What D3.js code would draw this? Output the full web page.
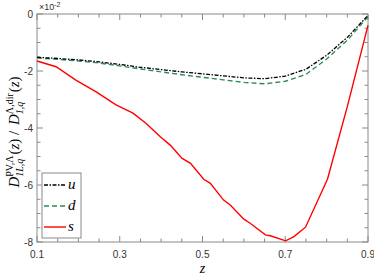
<!DOCTYPE html>
<html>
<head>
<meta charset="utf-8">
<script src="https://cdn.jsdelivr.net/npm/d3@7"></script>
<style>
  body { margin: 0; background: #fff; }
  svg text { font-family: "Liberation Sans", Arial, sans-serif; }
</style>
</head>
<body>
<div id="chart"></div>
<script>
// values in units of 10^-2
const zU = [0.1, 0.15, 0.2, 0.25, 0.3, 0.35, 0.4, 0.45, 0.5, 0.55, 0.6, 0.65, 0.7, 0.75, 0.8, 0.85, 0.9];
const uVals = [-1.52, -1.56, -1.61, -1.68, -1.77, -1.87, -1.95, -2.03, -2.10, -2.17, -2.24, -2.27, -2.18, -1.94, -1.45, -0.82, -0.05];
const dVals = [-1.54, -1.59, -1.65, -1.72, -1.82, -1.93, -2.03, -2.13, -2.22, -2.31, -2.40, -2.45, -2.36, -2.12, -1.58, -0.92, -0.10];
const zS = [0.1, 0.146, 0.194, 0.243, 0.291, 0.332, 0.364, 0.398, 0.422, 0.45, 0.471, 0.503, 0.519, 0.551, 0.567, 0.6, 0.616, 0.652, 0.664, 0.701, 0.721, 0.749, 0.802, 0.85, 0.9];
const sVals = [-1.65, -1.85, -2.32, -2.73, -3.19, -3.48, -3.84, -4.31, -4.60, -5.06, -5.24, -5.80, -5.94, -6.53, -6.70, -7.20, -7.35, -7.75, -7.78, -7.96, -7.81, -7.48, -5.80, -3.25, -0.40];
const xTickLabels = [0.1, 0.3, 0.5, 0.7, 0.9];
const yTickLabels = [0, -2, -4, -6, -8];

const width = 374, height = 275;
const margin = {top: 14, right: 6, bottom: 33, left: 37};
const innerW = width - margin.left - margin.right;
const innerH = height - margin.top - margin.bottom;

const svg = d3.select('#chart').append('svg')
    .attr('width', width)
    .attr('height', height);

const g = svg.append('g')
    .attr('transform', `translate(${margin.left},${margin.top})`);

const x = d3.scaleLinear().domain([0.1, 0.9]).range([0, innerW]);
const y = d3.scaleLinear().domain([-8, 0]).range([innerH, 0]);

const frameColor = '#8a8a8a';

// minor + major ticks, pointing inward on all four sides
const xMinor = d3.range(0.1, 0.9001, 0.05);
const yMinor = d3.range(-8, 0.001, 0.5);
const isMajorX = v => xTickLabels.some(t => Math.abs(t - v) < 1e-6);
const isMajorY = v => yTickLabels.some(t => Math.abs(t - v) < 1e-6);

xMinor.forEach(v => {
    const len = isMajorX(v) ? 6 : 3.5;
    g.append('line').attr('x1', x(v)).attr('x2', x(v)).attr('y1', innerH).attr('y2', innerH - len)
        .attr('stroke', frameColor).attr('stroke-width', 1);
    g.append('line').attr('x1', x(v)).attr('x2', x(v)).attr('y1', 0).attr('y2', len)
        .attr('stroke', frameColor).attr('stroke-width', 1);
});
yMinor.forEach(v => {
    const len = isMajorY(v) ? 6 : 3.5;
    g.append('line').attr('x1', 0).attr('x2', len).attr('y1', y(v)).attr('y2', y(v))
        .attr('stroke', frameColor).attr('stroke-width', 1);
    g.append('line').attr('x1', innerW).attr('x2', innerW - len).attr('y1', y(v)).attr('y2', y(v))
        .attr('stroke', frameColor).attr('stroke-width', 1);
});

// frame
g.append('rect')
    .attr('width', innerW).attr('height', innerH)
    .attr('fill', 'none')
    .attr('stroke', frameColor)
    .attr('stroke-width', 1);

// tick labels
xTickLabels.forEach(v => {
    g.append('text')
        .attr('x', x(v)).attr('y', innerH + 16)
        .attr('text-anchor', 'middle')
        .attr('fill', '#333')
        .style('font-size', '10px')
        .text(v.toFixed(1));
});
yTickLabels.forEach(v => {
    g.append('text')
        .attr('x', -4).attr('y', y(v) + 3.5)
        .attr('text-anchor', 'end')
        .attr('fill', '#333')
        .style('font-size', '10px')
        .text(v);
});

// x10^-2
const mult = svg.append('text')
    .attr('x', margin.left + 2).attr('y', 10)
    .attr('fill', '#333')
    .style('font-size', '9px');
mult.append('tspan').text('×10');
mult.append('tspan').attr('dy', -3).style('font-size', '7px').text('-2');

// lines
const line = d3.line().x(d => x(d[0])).y(d => y(d[1]));

g.append('path')
    .datum(zU.map((z, i) => [z, dVals[i]]))
    .attr('d', line)
    .attr('fill', 'none')
    .attr('stroke', '#2e8b57')
    .attr('stroke-width', 1.4)
    .attr('stroke-dasharray', '5,3');

g.append('path')
    .datum(zU.map((z, i) => [z, uVals[i]]))
    .attr('d', line)
    .attr('fill', 'none')
    .attr('stroke', '#000')
    .attr('stroke-width', 1.3)
    .attr('stroke-dasharray', '4,1.5,1.5,1.5');

g.append('path')
    .datum(zS.map((z, i) => [z, sVals[i]]))
    .attr('d', line)
    .attr('fill', 'none')
    .attr('stroke', '#ff0000')
    .attr('stroke-width', 1.4);

// axis labels
const serif = '"Liberation Serif", "Times New Roman", serif';
svg.append('text')
    .attr('x', margin.left + x(0.5)).attr('y', 273)
    .attr('text-anchor', 'middle')
    .style('font-family', serif)
    .style('font-style', 'italic')
    .style('font-size', '14px')
    .text('z');

// y label with stacked sub/superscripts
const yl = svg.append('text')
    .attr('transform', `translate(19,${margin.top + innerH / 2 + 4}) rotate(-90)`)
    .attr('text-anchor', 'middle')
    .style('font-family', serif)
    .style('font-size', '15px');

function scripted(base, sup, sub, first) {
    yl.append('tspan').attr('dx', first ? 0 : 2).style('font-style', 'italic').text(base);
    const supT = yl.append('tspan').attr('dy', -6).style('font-size', '10px').text(sup);
    const subT = yl.append('tspan').attr('dy', 10).style('font-size', '10px').style('font-style', 'italic').text(sub);
    const supLen = supT.node().getComputedTextLength();
    const subLen = subT.node().getComputedTextLength();
    subT.attr('dx', -supLen);
    const extra = Math.max(0, supLen - subLen) + 1;
    return extra;
}
let extra = scripted('D', 'PV,Λ', '1L,q', true);
yl.append('tspan').attr('dx', extra).attr('dy', -4).text('(');
yl.append('tspan').style('font-style', 'italic').text('z');
yl.append('tspan').text(') / ');
extra = scripted('D', 'Λ,dir', '1,q', false);
yl.append('tspan').attr('dx', extra).attr('dy', -4).text('(');
yl.append('tspan').style('font-style', 'italic').text('z');
yl.append('tspan').text(')');

// legend
const legend = svg.append('g').attr('transform', 'translate(42,173)');
legend.append('rect')
    .attr('width', 39).attr('height', 65)
    .attr('fill', '#fff')
    .attr('stroke', frameColor)
    .attr('stroke-width', 1);

const legendItems = [
    {label: 'u', color: '#000', dash: '4,1.5,1.5,1.5'},
    {label: 'd', color: '#2e8b57', dash: '5,3'},
    {label: 's', color: '#ff0000', dash: null}
];
legendItems.forEach((item, i) => {
    const yy = 12 + i * 21;
    legend.append('line')
        .attr('x1', 2).attr('x2', 24)
        .attr('y1', yy).attr('y2', yy)
        .attr('stroke', item.color)
        .attr('stroke-width', 1.4)
        .attr('stroke-dasharray', item.dash);
    legend.append('text')
        .attr('x', 26).attr('y', yy + 4)
        .style('font-family', serif)
        .style('font-style', 'italic')
        .style('font-size', '15px')
        .text(item.label);
});
</script>
</body>
</html>
